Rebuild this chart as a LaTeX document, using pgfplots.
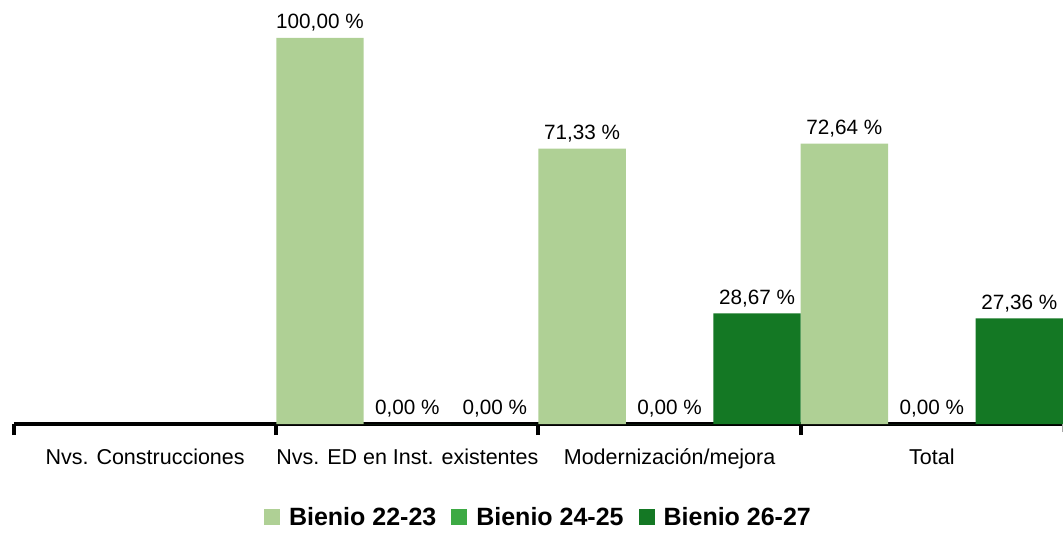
\documentclass[border=0pt]{standalone}
\usepackage{fontspec}
\setmainfont{Liberation Sans}
\usepackage{pgfplots}
\pgfplotsset{compat=1.18}

\definecolor{bienioA}{RGB}{175,208,149}
\definecolor{bienioB}{RGB}{61,170,68}
\definecolor{bienioC}{RGB}{20,120,36}

\begin{document}
\begin{tikzpicture}
\useasboundingbox (-14pt,-109pt) rectangle (1049pt,424pt);
\begin{axis}[
  scale only axis,
  width=1049pt, height=386pt,
  xmin=-0.5, xmax=3.5,
  ymin=0, ymax=100,
  clip=false,
  ybar, bar width=0.3333,
  axis x line=bottom,
  axis y line=none,
  x axis line style={-, line width=4pt, black},
  xtick={0,1,2,3},
  xticklabels={Nvs. Construcciones, Nvs. ED en Inst. existentes, Modernización/mejora, Total},
  major tick length=0pt,
  minor xtick={-0.5,0.5,1.5,2.5},
  minor tick length=11pt,
  tick align=outside,
  minor tick style={line width=4pt, black},
  extra x ticks={3.5},
  extra x tick labels={},
  extra x tick style={major tick length=8pt, tick style={gray!70, line width=1pt}},
  xticklabel style={font=\fontsize{21.5}{24}\selectfont, yshift=-21pt},
  nodes near coords={\pgfmathprintnumber[fixed, fixed zerofill, precision=2, use comma, assume math mode=true]{\pgfplotspointmeta}~\%},
  every node near coord/.append style={font=\fontsize{20.7}{24}\selectfont, anchor=south, black, yshift=3pt},
  legend columns=3,
  legend style={at={(axis description cs:0.5,0)}, anchor=center, yshift=-93pt,
    draw=none, font=\fontsize{25}{28}\selectfont\bfseries,
    /tikz/every odd column/.append style={column sep=7pt},
    /tikz/every even column/.append style={column sep=13pt}},
  legend image code/.code={\fill[#1] (0pt,-7.5pt) rectangle (16pt,8.5pt);},
]
\addplot+[draw=none, fill=bienioA, bar shift=-0.3333]
  coordinates {(1,100) (2,71.33) (3,72.64)};
\addplot+[draw=none, fill=bienioB, bar shift=0]
  coordinates {(1,0) (2,0) (3,0)};
\addplot+[draw=none, fill=bienioC, bar shift=0.3333]
  coordinates {(1,0) (2,28.67) (3,27.36)};
\legend{Bienio 22-23, Bienio 24-25, Bienio 26-27}
\end{axis}
\end{tikzpicture}
\end{document}
